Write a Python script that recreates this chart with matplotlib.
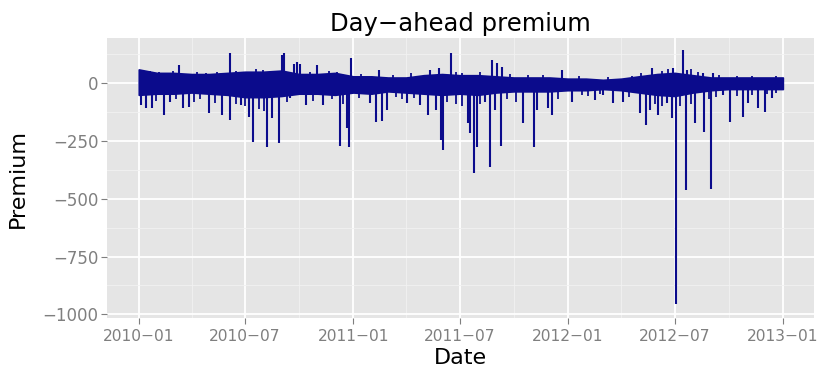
import numpy as np
import pandas as pd
import matplotlib
matplotlib.use("Agg")
import matplotlib.pyplot as plt
import matplotlib.dates as mdates

# ---- data ----
band_months = pd.date_range("2010-01-01", "2012-12-01", freq="MS")
band_hi = [60, 45, 45, 40, 40, 45, 50, 50, 55, 40, 40, 45,
           30, 30, 25, 25, 35, 40, 35, 35, 30, 25, 25, 25,
           20, 20, 15, 20, 30, 40, 45, 35, 25, 25, 25, 25]
band_lo = [-50, -45, -45, -40, -45, -50, -60, -60, -55, -45, -45, -50,
           -40, -45, -35, -40, -45, -50, -45, -50, -40, -35, -35, -35,
           -30, -30, -25, -30, -40, -50, -55, -40, -30, -25, -25, -25]

# large excursions
spike_dates = [
    "2010-01-05", "2010-01-14", "2010-01-24", "2010-02-13", "2010-02-23",
    "2010-03-10", "2010-03-18", "2010-03-28", "2010-05-01", "2010-05-23",
    "2010-06-05", "2010-06-06", "2010-06-24", "2010-07-07", "2010-07-15",
    "2010-08-08", "2010-08-16", "2010-08-27", "2010-09-02", "2010-09-06",
    "2010-09-16", "2010-09-22", "2010-09-28", "2010-10-02", "2010-10-12",
    "2010-11-01", "2010-11-11", "2010-12-10", "2010-12-22", "2010-12-25",
    "2010-12-29", "2011-01-30", "2011-02-08", "2011-02-13", "2011-02-19",
    "2011-02-28", "2011-04-03", "2011-04-25", "2011-05-09", "2011-05-12",
    "2011-05-22", "2011-05-27", "2011-05-31", "2011-06-03", "2011-06-17",
    "2011-07-15", "2011-07-18", "2011-07-26", "2011-07-31", "2011-08-14",
    "2011-08-22", "2011-08-25", "2011-08-31", "2011-09-03", "2011-09-10",
    "2011-09-11", "2011-10-17", "2011-11-05", "2011-11-10", "2011-11-29",
    "2011-12-05", "2011-12-22", "2012-01-09", "2012-02-16", "2012-03-01",
    "2012-03-18", "2012-04-04", "2012-05-03", "2012-05-13", "2012-05-20",
    "2012-05-23", "2012-06-02", "2012-06-18", "2012-06-26", "2012-06-28",
    "2012-07-03", "2012-07-15", "2012-07-20", "2012-07-22", "2012-08-04",
    "2012-08-18", "2012-08-20", "2012-09-01", "2012-09-04", "2012-09-21",
    "2012-10-03", "2012-10-26", "2012-11-02", "2012-11-20", "2012-12-01",
    "2012-12-13",
]
spike_values = [
    -95, -108, -108, -139, -82,
    78, -108, -104, -130, -139,
    130, -160, -95, -147, -255,
    -277, -152, -260, 121, 130,
    -65, 85, 91, 85, -95,
    78, -95, -273, -195, -277,
    108, -87, -168, 56, -164,
    -117, -87, -95, -139, 56,
    -117, 65, -247, -290, 130,
    -173, -216, -390, -277, -82,
    -363, 100, -117, 87, -272,
    70, -173, -277, -117, -108,
    -139, 56, -80, -74, -52,
    -87, -82, -130, -182, -117,
    65, -139, -87, -152, 65,
    -955, 145, -463, 56, -173,
    43, -212, -459, 43, -52,
    -168, -147, -87, -108, -125,
    -65,
]

# small excursions at the band edges
fuzz_dates = [
    "2010-01-20", "2010-02-05", "2010-03-01", "2010-04-10", "2010-04-25",
    "2010-05-15", "2010-06-15", "2010-07-20", "2010-08-01", "2010-08-20",
    "2010-10-20", "2010-11-20", "2010-12-05",
    "2010-01-30", "2010-03-05", "2010-04-05", "2010-04-15", "2010-05-10",
    "2010-06-15", "2010-07-01", "2010-07-25", "2010-08-02", "2010-09-10",
    "2010-10-25", "2010-11-25", "2010-12-15",
    "2011-01-15", "2011-03-10", "2011-04-10", "2011-06-25", "2011-07-05",
    "2011-08-05", "2011-09-25", "2011-10-25", "2011-11-20",
    "2011-01-10", "2011-03-15", "2011-03-25", "2011-04-15", "2011-06-10",
    "2011-06-25", "2011-07-05", "2011-08-05", "2011-09-20", "2011-10-05",
    "2011-12-15",
    "2012-01-20", "2012-03-10", "2012-04-20", "2012-05-05", "2012-06-10",
    "2012-06-20", "2012-07-28", "2012-08-10", "2012-09-15", "2012-10-15",
    "2012-11-10", "2012-12-20",
    "2012-01-25", "2012-02-05", "2012-02-25", "2012-04-15", "2012-05-28",
    "2012-06-10", "2012-07-10", "2012-07-28", "2012-08-28", "2012-09-10",
    "2012-10-15", "2012-11-10", "2012-12-05", "2012-12-20",
]
fuzz_values = [
    55, 50, 52, 50, 45,
    48, 55, 60, 58, 55,
    50, 55, 50,
    -75, -70, -80, -70, -85,
    -90, -100, -110, -120, -80,
    -75, -70, -90,
    40, 35, 45, 50, 45,
    50, 40, 35, 38,
    -65, -60, -70, -65, -80,
    -90, -100, -90, -70, -80,
    -70,
    30, 28, 30, 45, 55,
    60, 60, 50, 35, 30,
    30, 30,
    -50, -55, -45, -60, -90,
    -100, -100, -90, -70, -60,
    -55, -50, -45, -40,
]

y_ticks = [0, -250, -500, -750, -1000]
x_ticks = ["2010-01-01", "2010-07-01", "2011-01-01", "2011-07-01",
           "2012-01-01", "2012-07-01", "2013-01-01"]
x_tick_labels = ["2010\u221201", "2010\u221207", "2011\u221201", "2011\u221207",
                 "2012\u221201", "2012\u221207", "2013\u221201"]

# ---- style ----
plt.rcParams["font.family"] = ["DejaVu Sans"]
line_col = "#0B0B8C"
bg = "#E5E5E5"

fig = plt.figure(figsize=(8.18, 3.76), dpi=100)
ax = fig.add_axes([107 / 818, 1 - 318 / 376, (814 - 107) / 818, (318 - 38) / 376])
ax.set_facecolor(bg)
for s in ax.spines.values():
    s.set_visible(False)

# band
bx = list(band_months) + [pd.Timestamp("2013-01-01")]
bhi = band_hi + [band_hi[-1]]
blo = band_lo + [band_lo[-1]]
ax.fill_between(bx, blo, bhi, color=line_col, lw=1.2, edgecolor=line_col, zorder=3)

fd = pd.to_datetime(fuzz_dates)
ax.vlines(fd, 0, fuzz_values, color=line_col, lw=1.3, zorder=3)
sd = pd.to_datetime(spike_dates)
ax.vlines(sd, 0, spike_values, color=line_col, lw=1.5, zorder=3)

ax.set_xlim(pd.Timestamp("2009-11-08"), pd.Timestamp("2013-02-23"))
ax.set_ylim(-1016, 196)

ax.set_yticks(y_ticks)
ax.set_yticklabels([str(v).replace("-", "\u2212") for v in y_ticks])
ax.set_yticks([125, -125, -375, -625, -875], minor=True)
xt = pd.to_datetime(x_ticks)
ax.set_xticks(xt)
ax.set_xticklabels(x_tick_labels)
ax.set_xticks(pd.to_datetime(["2010-04-01", "2010-10-01", "2011-04-01",
                              "2011-10-01", "2012-04-01", "2012-10-01"]), minor=True)

ax.grid(which="major", color="white", lw=1.3, zorder=1)
ax.grid(which="minor", color="#F2F2F2", lw=0.6, zorder=0.9)
ax.set_axisbelow(True)
ax.tick_params(which="major", length=4, width=0.8, color="#7F7F7F",
               labelcolor="#7F7F7F", labelsize=12, pad=2)
ax.tick_params(axis="x", which="major", labelsize=11.2, pad=4)
ax.tick_params(which="minor", length=0)

ax.set_xlabel("Date", fontsize=16, labelpad=3)
ax.set_ylabel("Premium", fontsize=16, labelpad=11)
ax.set_title("Day\u2212ahead premium", fontsize=17.5, pad=5)

fig.savefig("out.png", dpi=100)
